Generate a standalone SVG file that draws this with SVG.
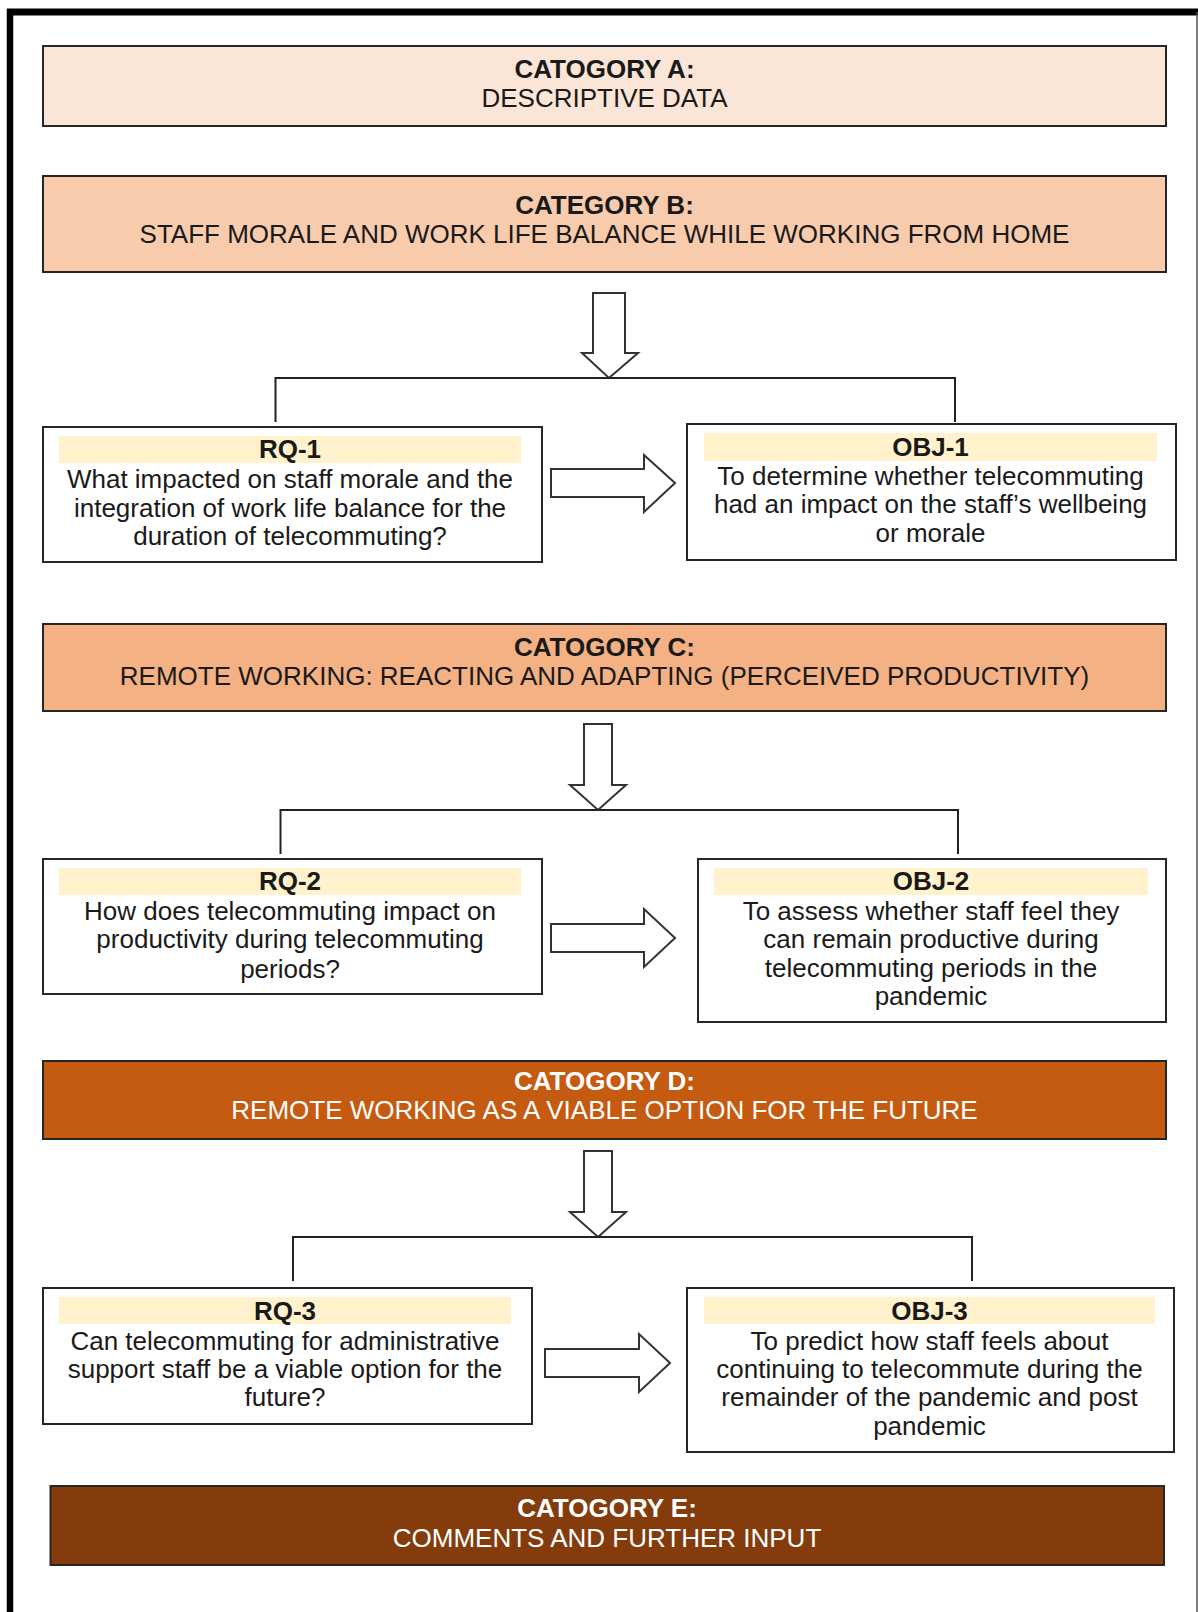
<svg xmlns="http://www.w3.org/2000/svg" width="1198" height="1612" viewBox="0 0 1198 1612">
<style>
.box{stroke:#262626;stroke-width:2}
.qbox{fill:#ffffff;stroke:#262626;stroke-width:2}
.band{fill:#FFF2CC}
.t{font-family:"Liberation Sans",Arial,sans-serif;font-size:26px;fill:#1a1a1a;text-anchor:middle}
.b{font-weight:bold}
.w{fill:#ffffff}
.arrow{fill:#ffffff;stroke:#333333;stroke-width:2;stroke-linejoin:miter}
.br{fill:none;stroke:#222222;stroke-width:2}
</style>
<rect width="1198" height="1612" fill="#ffffff"/>
<g id="frame">
<line x1="7" y1="12" x2="1198" y2="12" stroke="#000" stroke-width="7"/>
<line x1="10" y1="9" x2="10" y2="1612" stroke="#000" stroke-width="6.5"/>
<line x1="1197" y1="12" x2="1197" y2="1612" stroke="#555" stroke-width="1.5"/>
</g>
<g id="catA">
<rect class="box" x="43" y="46" width="1123" height="80" fill="#FBE5D6"/>
<text class="t b" x="604.5" y="78">CATOGORY A:</text>
<text class="t" x="604.5" y="107">DESCRIPTIVE DATA</text>
</g>
<g id="catB">
<rect class="box" x="43" y="176" width="1123" height="96" fill="#F8CBAD"/>
<text class="t b" x="604.5" y="214">CATEGORY B:</text>
<text class="t" x="604.5" y="243">STAFF MORALE AND WORK LIFE BALANCE WHILE WORKING FROM HOME</text>
</g>
<g id="rq1">
<rect class="qbox" x="43" y="427" width="499" height="135"/>
<rect class="band" x="59" y="436" width="462" height="27"/>
<text class="t b" x="290" y="458">RQ-1</text>
<text class="t" x="290" y="488">What impacted on staff morale and the</text>
<text class="t" x="290" y="517">integration of work life balance for the</text>
<text class="t" x="290" y="545">duration of telecommuting?</text>
</g>
<g id="obj1">
<rect class="qbox" x="687" y="424" width="489" height="136"/>
<rect class="band" x="704" y="433" width="453" height="28"/>
<text class="t b" x="930.5" y="456">OBJ-1</text>
<text class="t" x="930.5" y="485">To determine whether telecommuting</text>
<text class="t" x="930.5" y="513">had an impact on the staff’s wellbeing</text>
<text class="t" x="930.5" y="542">or morale</text>
</g>
<g id="catC">
<rect class="box" x="43" y="624" width="1123" height="87" fill="#F4B183"/>
<text class="t b" x="604.5" y="656">CATOGORY C:</text>
<text class="t" x="604.5" y="685">REMOTE WORKING: REACTING AND ADAPTING (PERCEIVED PRODUCTIVITY)</text>
</g>
<g id="rq2">
<rect class="qbox" x="43" y="859" width="499" height="135"/>
<rect class="band" x="59" y="868" width="462" height="27"/>
<text class="t b" x="290" y="890">RQ-2</text>
<text class="t" x="290" y="920">How does telecommuting impact on</text>
<text class="t" x="290" y="948">productivity during telecommuting</text>
<text class="t" x="290" y="978">periods?</text>
</g>
<g id="obj2">
<rect class="qbox" x="698" y="859" width="468" height="163"/>
<rect class="band" x="714" y="868" width="434" height="27"/>
<text class="t b" x="931" y="890">OBJ-2</text>
<text class="t" x="931" y="920">To assess whether staff feel they</text>
<text class="t" x="931" y="948">can remain productive during</text>
<text class="t" x="931" y="977">telecommuting periods in the</text>
<text class="t" x="931" y="1005">pandemic</text>
</g>
<g id="catD">
<rect class="box" x="43" y="1061" width="1123" height="78" fill="#C55A11"/>
<text class="t b w" x="604.5" y="1090">CATOGORY D:</text>
<text class="t w" x="604.5" y="1119">REMOTE WORKING AS A VIABLE OPTION FOR THE FUTURE</text>
</g>
<g id="rq3">
<rect class="qbox" x="43" y="1288" width="489" height="136"/>
<rect class="band" x="59" y="1297" width="452" height="27"/>
<text class="t b" x="285" y="1320">RQ-3</text>
<text class="t" x="285" y="1350">Can telecommuting for administrative</text>
<text class="t" x="285" y="1378">support staff be a viable option for the</text>
<text class="t" x="285" y="1406">future?</text>
</g>
<g id="obj3">
<rect class="qbox" x="687" y="1288" width="487" height="164"/>
<rect class="band" x="704" y="1297" width="451" height="27"/>
<text class="t b" x="929.5" y="1320">OBJ-3</text>
<text class="t" x="929.5" y="1350">To predict how staff feels about</text>
<text class="t" x="929.5" y="1378">continuing to telecommute during the</text>
<text class="t" x="929.5" y="1406">remainder of the pandemic and post</text>
<text class="t" x="929.5" y="1435">pandemic</text>
</g>
<g id="catE">
<rect class="box" x="50.5" y="1486" width="1113.5" height="79" fill="#843C0C"/>
<text class="t b w" x="607" y="1517">CATOGORY E:</text>
<text class="t w" x="607" y="1547">COMMENTS AND FURTHER INPUT</text>
</g>
<g id="connectors">
<polygon class="arrow" points="593,293 625,293 625,353 638,353 609,378 582,353 593,353"/>
<path class="br" d="M275.5,422 V378 H955 V422"/>
<polygon class="arrow" points="551,469 644,469 644,455 675,483 644,512 644,497 551,497"/>
<polygon class="arrow" points="584,724 612,724 612,785 626,785 598,810 570,785 584,785"/>
<path class="br" d="M280.5,854 V810 H958 V854"/>
<polygon class="arrow" points="551,924 644,924 644,909 675,938 644,967 644,952 551,952"/>
<polygon class="arrow" points="584,1151 612,1151 612,1212 626,1212 598,1237 570,1212 584,1212"/>
<path class="br" d="M293,1281 V1237 H972 V1281"/>
<polygon class="arrow" points="545,1349 639,1349 639,1334 670,1363 639,1392 639,1377 545,1377"/>
</g>
</svg>
